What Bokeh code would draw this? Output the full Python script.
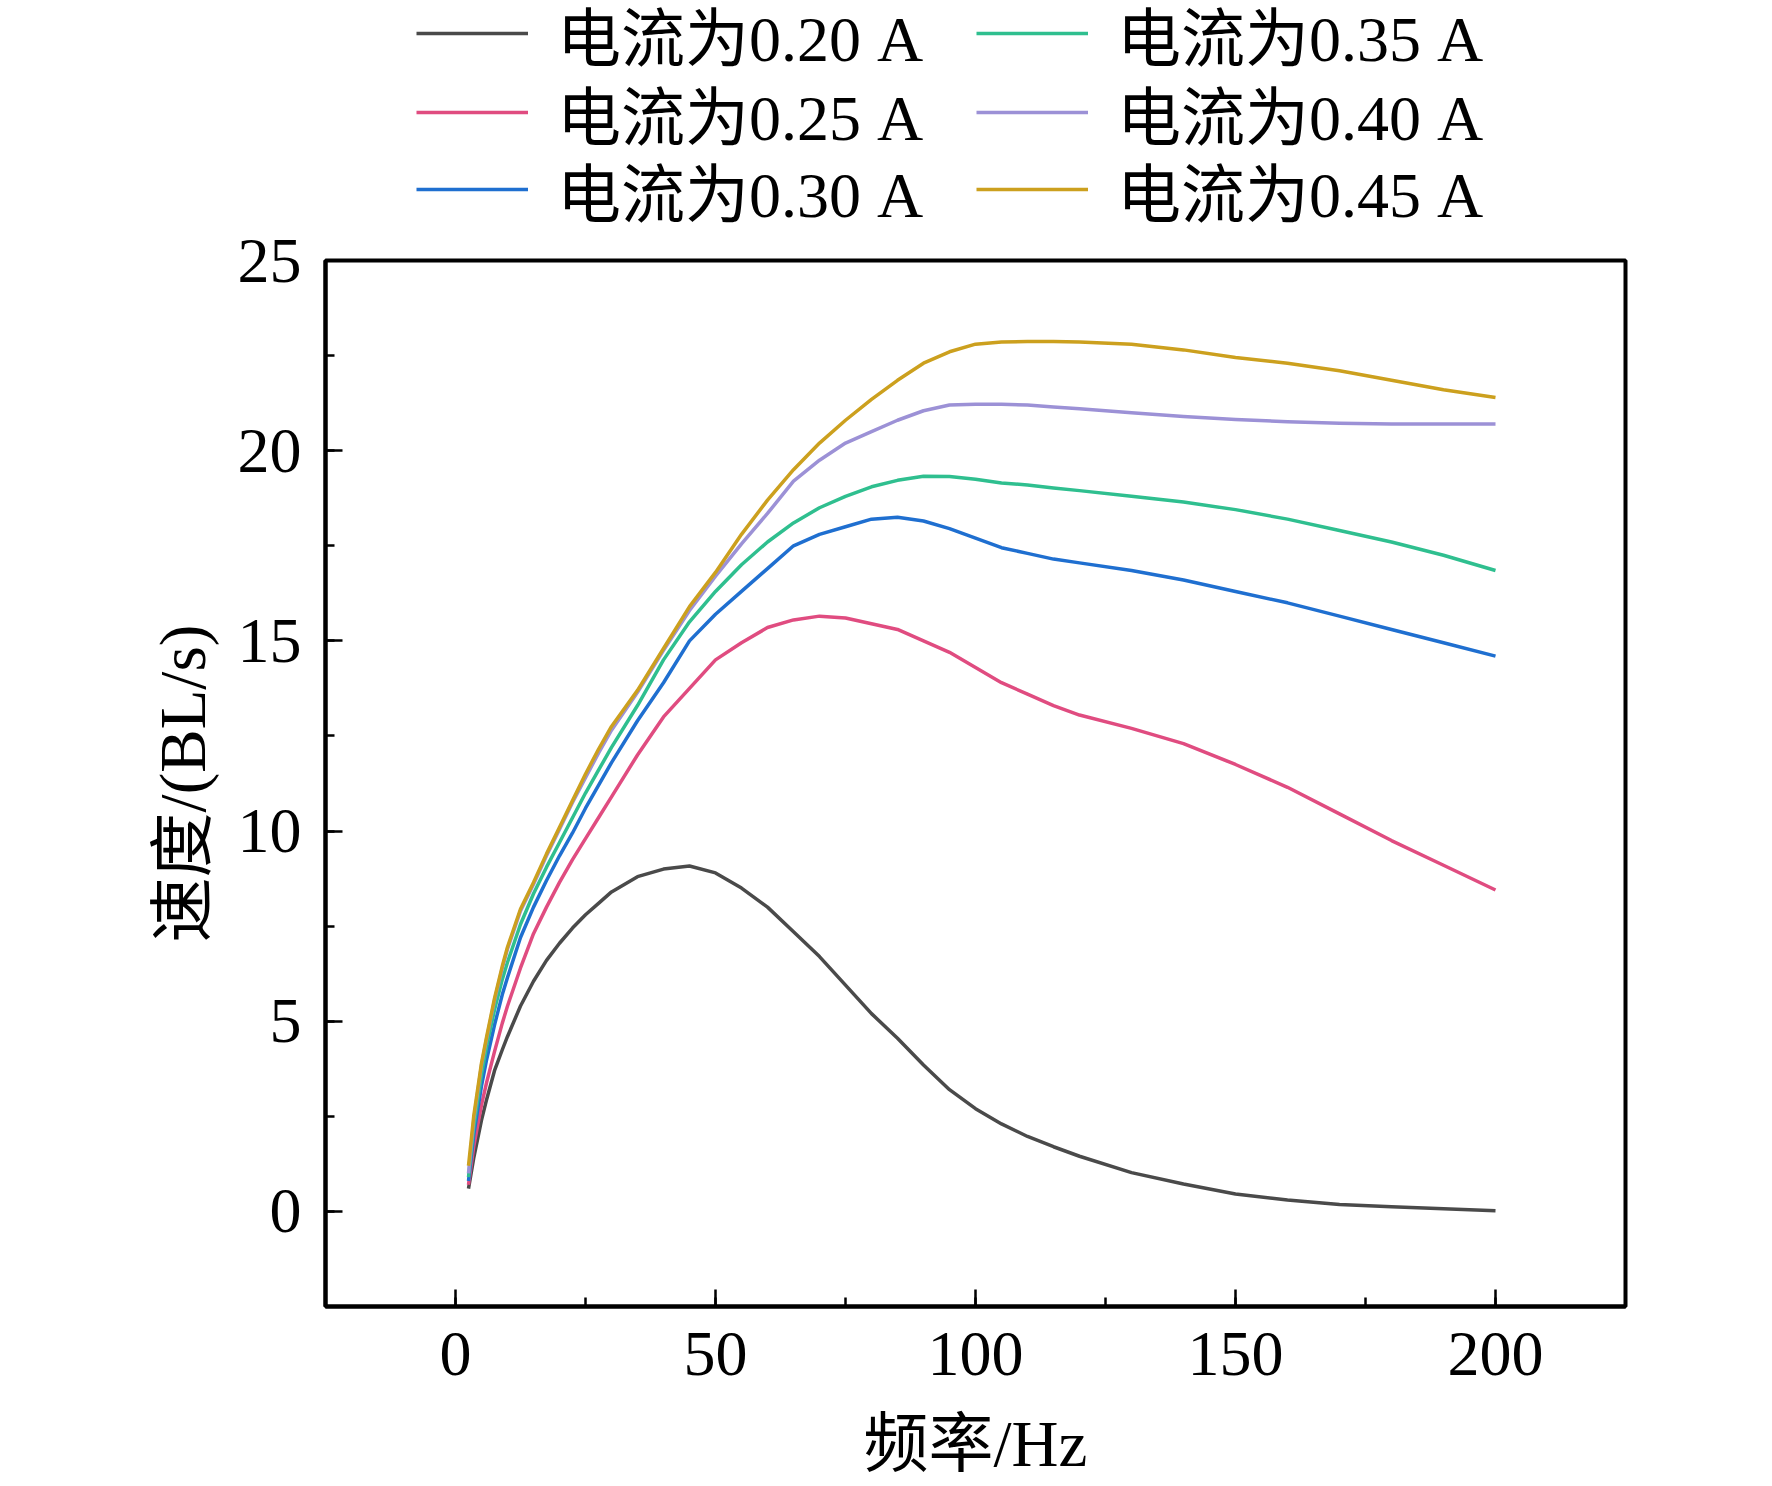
from bokeh.plotting import figure
from bokeh.layouts import column
from bokeh.models import Range1d, SingleIntervalTicker, Legend, LegendItem
from bokeh.embed import file_html
from bokeh.resources import INLINE

# ---------------- data ----------------
freq = [2.5, 3.5, 5, 6, 7.5, 9, 10, 12.5, 15, 17.5, 20, 22.5, 25, 27.5, 30,
        35, 40, 45, 50, 55, 60, 65, 70, 75, 80, 85, 90, 95, 100, 105, 110,
        115, 120, 130, 140, 150, 160, 170, 180, 190, 200]

v_020 = [0.6, 1.4, 2.4, 2.95, 3.7, 4.25, 4.6, 5.4, 6.05, 6.6, 7.05, 7.45,
         7.8, 8.1, 8.4, 8.8, 9.0, 9.08, 8.9, 8.5, 8.0, 7.35, 6.7, 5.95, 5.2,
         4.55, 3.85, 3.2, 2.7, 2.3, 1.97, 1.7, 1.45, 1.02, 0.72, 0.46, 0.3,
         0.18, 0.12, 0.07, 0.02]

v_025 = [0.7, 1.7, 2.8, 3.4, 4.2, 4.95, 5.4, 6.4, 7.3, 8.0, 8.65, 9.25, 9.8,
         10.35, 10.9, 12.0, 13.0, 13.75, 14.5, 14.95, 15.35, 15.55, 15.65,
         15.6, 15.45, 15.3, 15.0, 14.7, 14.3, 13.9, 13.6, 13.3, 13.05, 12.7,
         12.3, 11.75, 11.15, 10.45, 9.75, 9.1, 8.45]

v_030 = [0.8, 2.0, 3.3, 4.0, 4.9, 5.7, 6.15, 7.2, 8.0, 8.7, 9.35, 9.95, 10.6,
         11.2, 11.8, 12.9, 13.9, 15.0, 15.7, 16.3, 16.9, 17.5, 17.8, 18.0,
         18.2, 18.25, 18.15, 17.95, 17.7, 17.45, 17.3, 17.15, 17.05, 16.85,
         16.6, 16.3, 16.0, 15.65, 15.3, 14.95, 14.6]

v_035 = [0.9, 2.2, 3.6, 4.35, 5.3, 6.1, 6.55, 7.55, 8.35, 9.05, 9.7, 10.35,
         11.0, 11.6, 12.2, 13.3, 14.5, 15.5, 16.3, 17.0, 17.6, 18.1, 18.5,
         18.8, 19.05, 19.22, 19.33, 19.32, 19.25, 19.15, 19.1, 19.02, 18.95,
         18.8, 18.65, 18.45, 18.2, 17.9, 17.6, 17.25, 16.85]

v_040 = [1.0, 2.4, 3.85, 4.55, 5.55, 6.4, 6.9, 7.9, 8.6, 9.35, 10.05, 10.75,
         11.4, 12.05, 12.65, 13.65, 14.75, 15.8, 16.7, 17.55, 18.35, 19.2,
         19.75, 20.2, 20.5, 20.8, 21.05, 21.2, 21.22, 21.22, 21.2, 21.15,
         21.1, 21.0, 20.9, 20.82, 20.76, 20.72, 20.7, 20.7, 20.7]

v_045 = [1.2, 2.5, 3.9, 4.6, 5.6, 6.45, 6.95, 7.95, 8.65, 9.4, 10.1, 10.8,
         11.5, 12.15, 12.75, 13.7, 14.8, 15.9, 16.8, 17.8, 18.7, 19.5, 20.2,
         20.8, 21.35, 21.85, 22.3, 22.6, 22.8, 22.86, 22.87, 22.87, 22.86,
         22.8, 22.65, 22.45, 22.3, 22.1, 21.85, 21.6, 21.4]

series = [v_020, v_025, v_030, v_035, v_040, v_045]
labels = ["电流为0.20 A", "电流为0.25 A", "电流为0.30 A",
          "电流为0.35 A", "电流为0.40 A", "电流为0.45 A"]
colors = ["#4a4a4a", "#e04c80", "#1f6fd0", "#2fbf8f", "#9c91d6", "#cca01e"]

x_label = "频率/Hz"
y_label = "速度/(BL/s)"

FONT = "Liberation Serif, Noto Sans CJK SC"
TICK_FONT = "Liberation Serif"
FS = "65px"
W = 1764
TOP_H = 224
ITEM_H = 92
ROW_CENTERS = [33, 112, 189]   # legend row centres (px from page top)

# ---------------- legend strip (top) ----------------
lf = figure(width=W, height=TOP_H, x_range=Range1d(0, 1), y_range=Range1d(0, 1),
            x_axis_location=None, y_axis_location=None,
            output_backend="svg", toolbar_location=None, min_border=0)
lf.outline_line_color = None
lf.background_fill_color = "white"
lf.border_fill_color = "white"
lf.grid.visible = False

leg_renderers = []
for vals, col in zip(series, colors):
    r = lf.line(freq, vals, line_color=col, line_width=3.5, visible=False)
    leg_renderers.append(r)

for row, yc in enumerate(ROW_CENTERS):
    pair = [row, row + 3]
    items = [LegendItem(label=labels[i], renderers=[leg_renderers[i]]) for i in pair]
    leg = Legend(items=items, orientation="horizontal",
                 location=(91, TOP_H - (yc + ITEM_H // 2)),
                 glyph_width=112, glyph_height=ITEM_H,
                 label_standoff=29, label_width=419, label_height=ITEM_H,
                 spacing=0, padding=0, margin=0,
                 border_line_alpha=0, background_fill_alpha=0,
                 inactive_fill_alpha=0,
                 label_text_font=FONT, label_text_font_size="64px",
                 label_text_color="black")
    lf.add_layout(leg, "center")

# ---------------- main chart ----------------
p = figure(frame_width=1300, frame_height=1046,
           x_range=Range1d(-25, 225), y_range=Range1d(-2.5, 25),
           output_backend="svg", toolbar_location=None,
           min_border_left=325, min_border_right=W - 325 - 1300,
           min_border_top=260 - TOP_H, min_border_bottom=180)

p.background_fill_color = "white"
p.border_fill_color = "white"
p.grid.visible = False
p.outline_line_color = "black"
p.outline_line_width = 4

p.xaxis.ticker = SingleIntervalTicker(interval=50, num_minor_ticks=2)
p.yaxis.ticker = SingleIntervalTicker(interval=5, num_minor_ticks=2)

for ax in (p.xaxis, p.yaxis):
    ax.axis_line_width = 4
    ax.axis_line_color = "black"
    ax.major_tick_in = 17
    ax.major_tick_out = 0
    ax.minor_tick_in = 9
    ax.minor_tick_out = 0
    ax.major_tick_line_width = 2.5
    ax.minor_tick_line_width = 2.5
    ax.major_tick_line_color = "black"
    ax.minor_tick_line_color = "black"
    ax.major_label_text_font = TICK_FONT
    ax.major_label_text_font_size = "64px"
    ax.major_label_text_color = "black"
    ax.axis_label_text_font = FONT
    ax.axis_label_text_font_size = FS
    ax.axis_label_text_font_style = "normal"
    ax.axis_label_text_color = "black"

p.xaxis.axis_label = x_label
p.yaxis.axis_label = y_label
p.xaxis.major_label_standoff = 26
p.xaxis.axis_label_standoff = 30
p.yaxis.major_label_standoff = 24
p.yaxis.axis_label_standoff = 16

for vals, col in zip(series, colors):
    p.line(freq, vals, line_color=col, line_width=3.5, line_join="round")

layout = column(lf, p, spacing=0)
open("out.html", "w").write(file_html(layout, INLINE))
